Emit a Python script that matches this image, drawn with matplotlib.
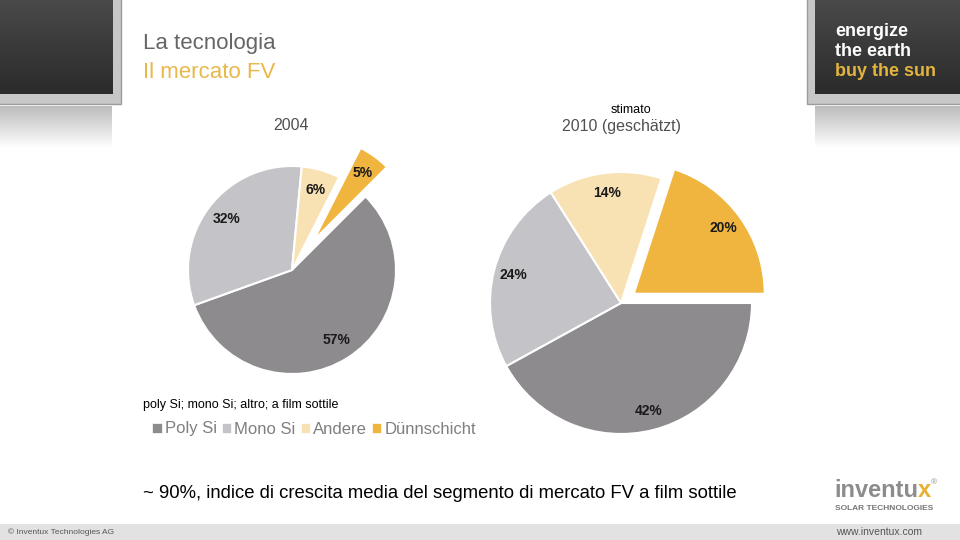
import numpy as np
import matplotlib
matplotlib.use("Agg")
import matplotlib.pyplot as plt
from matplotlib.patches import Rectangle
from matplotlib.colors import LinearSegmentedColormap

plt.rcParams['font.family'] = ['Liberation Sans', 'DejaVu Sans']

# market share by technology (%)
categories = ['Poly Si', 'Mono Si', 'Andere', 'Dünnschicht']
share_2004 = [57, 32, 6, 5]
share_2010 = [42, 24, 14, 20]
colors = ['#8e8b8f', '#c4c3c7', '#f8e2b4', '#efb53f']

W, H = 960, 540
fig = plt.figure(figsize=(9.6, 5.4), dpi=100)
bg = fig.add_axes([0, 0, 1, 1])
bg.axis('off')

dark = LinearSegmentedColormap.from_list('dark', ['#4a4a4a', '#3a3a3a', '#2b2b2b'])
fade = LinearSegmentedColormap.from_list('fade', ['#bcbcbc', '#ffffff'])
grad = np.linspace(0, 1, 64).reshape(-1, 1)


def header_box(fx0, fx1, ix0, ix1, rx0, rx1):
    # light frame, dark screen, reflection underneath
    bg.add_patch(Rectangle((fx0, -2), fx1 - fx0, 106, facecolor='#c7c7c7',
                           edgecolor='#9c9c9c', lw=1, zorder=1))
    bg.imshow(grad, extent=(ix0, ix1, 94, 0), aspect='auto', cmap=dark, zorder=2)
    bg.imshow(grad, extent=(rx0, rx1, 148, 106), aspect='auto', cmap=fade, zorder=1)


header_box(-2, 121, -2, 113, 0, 112)
header_box(807, 965, 815, 965, 815, 960)
bg.set_xlim(0, W)
bg.set_ylim(H, 0)

slogan = dict(fontsize=13, fontweight='bold', va='center', zorder=3)
bg.text(835, 32, 'energize', color='white', **slogan)
bg.text(835, 52, 'the earth', color='white', **slogan)
bg.text(835, 72, 'buy the sun', color='#e2b43e', **slogan)

bg.text(143, 44, 'La tecnologia', color='#666666', fontsize=16, va='center')
bg.text(143, 73, 'Il mercato FV', color='#e8b84a', fontsize=16, va='center')

bg.text(291, 126, '2004', color='#505050', fontsize=11.5, ha='center', va='center')
bg.text(631, 110, 'stimato', color='black', fontsize=9, ha='center', va='center')
bg.text(621, 127, '2010 (geschätzt)', color='#505050', fontsize=11.5,
        ha='center', va='center')

bg.text(143, 405, 'poly Si; mono Si; altro; a film sottile', color='black',
        fontsize=9, va='center')
bg.text(143, 493, '~ 90%, indice di crescita media del segmento di mercato FV a film sottile',
        color='black', fontsize=13.3, va='center')

# footer
bg.add_patch(Rectangle((0, 524), W, 16, facecolor='#e2e2e2', edgecolor='none'))
bg.text(8, 532, '© Inventux Technologies AG', color='#555555', fontsize=6, va='center')
bg.text(922, 532, 'www.inventux.com', color='#555555', fontsize=7.5,
        ha='right', va='center')

# logo
t = bg.text(834, 497, 'inventu', color='#8c8c8c', fontsize=17, fontweight='bold',
            va='baseline')
tx = bg.annotate('x', xy=(1, 0), xycoords=t, color='#e8b030', fontsize=17,
                 fontweight='bold', va='bottom', ha='left')
bg.annotate('®', xy=(1, 1), xycoords=tx, color='#8c8c8c', fontsize=6,
            va='top', ha='left')
bg.text(835, 508, 'SOLAR TECHNOLOGIES', color='#777777', fontsize=6,
        fontweight='bold', va='center')


def pie_axes(cx, cy, r, half):
    size = 2 * half * r
    ax = fig.add_axes([(cx - half * r) / W, (H - cy - half * r) / H, size / W, size / H])
    return ax


wedge_style = dict(edgecolor='white', linewidth=1.5)
label_style = dict(fontsize=10, fontweight='bold', color='#1a1a1a')

ax1 = pie_axes(292, 270, 104, 1.5)
wedges1, _, _ = ax1.pie(share_2004, colors=colors, startangle=45, counterclock=False,
                        explode=[0, 0, 0, 0.35], autopct='%.0f%%', pctdistance=0.8,
                        wedgeprops=wedge_style, textprops=label_style)
ax1.set_xlim(-1.5, 1.5)
ax1.set_ylim(-1.5, 1.5)
ax1.axis('off')

ax2 = pie_axes(621, 303, 131, 1.3)
ax2.pie(share_2010, colors=colors, startangle=0, counterclock=False,
        explode=[0, 0, 0, 0.12], autopct='%.0f%%', pctdistance=0.85,
        wedgeprops=wedge_style, textprops=label_style)
ax2.set_xlim(-1.3, 1.3)
ax2.set_ylim(-1.3, 1.3)
ax2.axis('off')

leg = fig.legend(wedges1, categories, loc='center left',
                 bbox_to_anchor=(144 / W, 1 - 429 / H), ncol=4, frameon=False,
                 fontsize=12, handlelength=0.55, handleheight=0.55,
                 handletextpad=0.2, columnspacing=0.3, borderpad=0,
                 labelcolor='#7f7f7f')
for h in leg.legend_handles:
    h.set_linewidth(0.5)

fig.savefig('out.png', dpi=100)
